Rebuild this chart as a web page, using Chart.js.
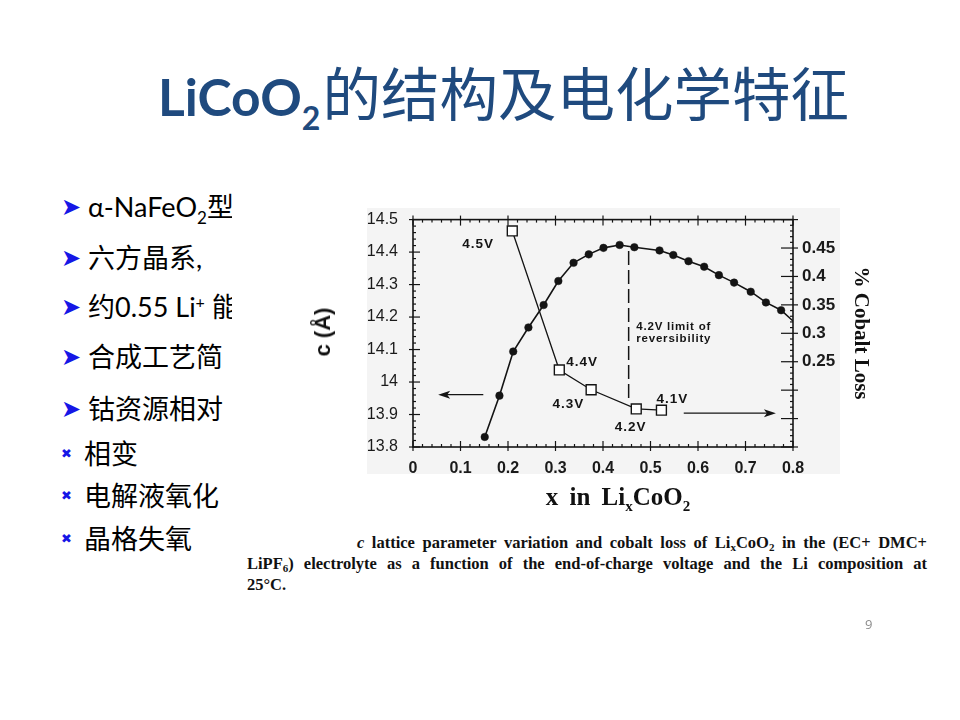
<!DOCTYPE html>
<html><head><meta charset="utf-8">
<script src="https://cdn.jsdelivr.net/npm/chart.js@4.4.1/dist/chart.umd.min.js"></script>
<style>
html,body{margin:0;padding:0;background:#fff;}
body{width:960px;height:720px;position:relative;overflow:hidden;font-family:"Noto Sans CJK SC",sans-serif;}
#title{position:absolute;left:158px;top:51px;height:80px;line-height:80px;color:#1f4a7e;white-space:nowrap;}
#title .lat{font-family:Lato,"Open Sans",sans-serif;font-weight:700;font-size:51.5px;}
#title .sub{font-family:Lato,"Open Sans",sans-serif;font-weight:700;font-size:32px;position:relative;top:14px;margin-right:2px;}
#title .cjk{font-family:"Noto Sans CJK SC";font-size:58.5px;font-weight:400;}
.row{position:absolute;left:61px;height:40px;line-height:40px;font-size:27px;color:#000;white-space:nowrap;font-family:Lato,"Noto Sans CJK SC",sans-serif;}
.row .b{display:inline-block;width:27px;height:40px;line-height:40px;color:#1616e6;font-family:"DejaVu Sans";font-size:24px;vertical-align:top;}
.row .x{display:inline-block;width:23px;color:#1616e6;font-family:"DejaVu Sans";font-size:13px;vertical-align:top;}
.row .s{font-size:17px;position:relative;top:7px;}
.row .p{font-size:16px;position:relative;top:-9px;}
#clip{position:absolute;left:232px;top:180px;width:140px;height:380px;background:#fff;}
#scan{position:absolute;left:367px;top:208px;width:473px;height:266px;background:#f4f4f4;}
#chart{position:absolute;left:300px;top:195px;}
.ytitle{position:absolute;white-space:nowrap;color:#111;}
#ctitle{left:323px;top:332px;transform:translate(-50%,-50%) rotate(-90deg);font-family:"Liberation Sans";font-weight:700;font-size:22px;}
#ltitle{left:861px;top:333px;transform:translate(-50%,-50%) rotate(90deg);font-family:"Liberation Serif";font-weight:700;font-size:21px;}
#xtitle{left:618px;top:497px;transform:translate(-50%,-50%);font-family:"Liberation Serif";font-weight:700;font-size:25px;word-spacing:5px;}
#xtitle sub{font-size:15px;vertical-align:-6px;line-height:0;}
#cap{position:absolute;left:247px;top:532px;width:680px;font-family:"Liberation Serif";font-weight:700;font-size:16.5px;line-height:21px;color:#111;}
#cap div{text-align:justify;text-align-last:justify;white-space:nowrap;}
#cap sub{font-size:11px;vertical-align:-3px;line-height:0;}
#pnum{position:absolute;left:865px;top:615px;font-family:"Open Sans";font-size:13px;color:#8c8c8c;}
</style>
</head><body>
<div id="title"><span class="lat">LiCoO</span><span class="sub">2</span><span class="cjk">的结构及电化学特征</span></div>

<div class="row" style="top:187px"><span class="b">➤</span>α-NaFeO<span class="s">2</span>型</div>
<div class="row" style="top:238px"><span class="b">➤</span>六方晶系,</div>
<div class="row" style="top:287px"><span class="b">➤</span>约0.55 Li<span class="p">+</span> 能</div>
<div class="row" style="top:337px"><span class="b">➤</span>合成工艺简</div>
<div class="row" style="top:389px"><span class="b">➤</span>钴资源相对</div>
<div class="row" style="top:434px"><span class="x">✖</span>相变</div>
<div class="row" style="top:476px"><span class="x">✖</span>电解液氧化</div>
<div class="row" style="top:519px"><span class="x">✖</span>晶格失氧</div>
<div id="clip"></div>
<div id="scan"></div>

<canvas id="chart" width="600" height="330"></canvas>
<div class="ytitle" id="ctitle">c (Å)</div>
<div class="ytitle" id="ltitle">% Cobalt Loss</div>
<div class="ytitle" id="xtitle">x in Li<sub>x</sub>CoO<sub>2</sub></div>

<div id="cap">
<div style="padding-left:110px"><i>c</i> lattice parameter variation and cobalt loss of Li<sub>x</sub>CoO<sub>2</sub> in the (EC+ DMC+</div>
<div>LiPF<sub>6</sub>) electrolyte as a function of the end-of-charge voltage and the Li composition at</div>
<div style="text-align-last:left">25°C.</div>
</div>
<div id="pnum">9</div>

<script>
// ---- data ----
const xLi = [0.151,0.182,0.211,0.243,0.275,0.306,0.338,0.370,0.401,0.435,0.466,0.519,0.548,0.580,0.613,0.644,0.676,0.711,0.743,0.775,0.800];
const cLattice = [13.831,13.958,14.094,14.168,14.237,14.311,14.367,14.393,14.413,14.422,14.415,14.405,14.391,14.372,14.355,14.329,14.306,14.278,14.245,14.221,14.188];
const cMarker = [1,1,1,1,1,1,1,1,1,1,1,1,1,1,1,1,1,1,1,1,0];
const xLoss = [0.209,0.308,0.375,0.470,0.523];
const cobaltLoss = [0.480,0.2355,0.2007,0.167,0.1648];
const voltLabels = ['4.5V','4.4V','4.3V','4.2V','4.1V'];
const voltLabelX = [0.137,0.356,0.327,0.458,0.546];
const voltLabelC = [14.425,14.060,13.930,13.861,13.946];
const limitX = [0.454,0.454];
const limitC = [14.403,13.943];
const limitText = ['4.2V limit of','reversibility'];
const limitTextX = [0.470,0.470];
const limitTextC = [14.170,14.132];
const arrowFromX = [0.148,0.570];
const arrowToX = [0.053,0.764];
const arrowC = [13.961,13.904];
const xTicks = [0,0.1,0.2,0.3,0.4,0.5,0.6,0.7,0.8];
const cTicks = [13.8,13.9,14.0,14.1,14.2,14.3,14.4,14.5];
const lossTickLabels = [0.25,0.30,0.35,0.40,0.45];

const ink = '#141414';

const boxPlugin = {
  id: 'box',
  afterDatasetsDraw(chart) {
    const {ctx, chartArea: a, scales: {x, y, y2}} = chart;
    const line = (x1, y1, x2, y2_) => { ctx.beginPath(); ctx.moveTo(x1, y1); ctx.lineTo(x2, y2_); ctx.stroke(); };
    ctx.save();
    ctx.strokeStyle = ink;
    ctx.lineWidth = 1.6;
    ctx.strokeRect(a.left, a.top, a.right - a.left, a.bottom - a.top);
    ctx.lineWidth = 1.2;
    for (let i = 0; i <= 40; i++) {
      const px = x.getPixelForValue(i * 0.02);
      const major = i % 5 === 0;
      const inw = major ? 6 : 3, out = major ? 4 : 0;
      line(px, a.bottom + out, px, a.bottom - inw);
      line(px, a.top - out, px, a.top + inw);
    }
    for (let i = 0; i <= 35; i++) {
      const py = y.getPixelForValue(13.8 + i * 0.02);
      const major = i % 5 === 0;
      line(a.left - (major ? 4 : 0), py, a.left + (major ? 7 : 3), py);
    }
    for (let i = 0; i <= 40; i++) {
      const py = y2.getPixelForValue(0.1 + i * 0.01);
      const major = i % 5 === 0;
      line(a.right + (major ? 5 : 0), py, a.right - (major ? 12 : 3), py);
    }
    ctx.lineWidth = 1.3;
    ctx.fillStyle = ink;
    for (let k = 0; k < arrowC.length; k++) {
      const x1 = x.getPixelForValue(arrowFromX[k]);
      const x2 = x.getPixelForValue(arrowToX[k]);
      const py = y.getPixelForValue(arrowC[k]);
      const dir = Math.sign(x2 - x1);
      line(x1, py, x2 - dir * 6, py);
      ctx.beginPath();
      ctx.moveTo(x2, py);
      ctx.lineTo(x2 - dir * 12, py - 4);
      ctx.lineTo(x2 - dir * 9, py);
      ctx.lineTo(x2 - dir * 12, py + 4);
      ctx.closePath();
      ctx.fill();
    }
    ctx.font = 'bold 13.5px "Liberation Sans"';
    ctx.letterSpacing = '1px';
    ctx.textAlign = 'center';
    ctx.textBaseline = 'middle';
    voltLabels.forEach((t, i) => {
      ctx.fillText(t, x.getPixelForValue(voltLabelX[i]), y.getPixelForValue(voltLabelC[i]));
    });
    ctx.font = 'bold 11.5px "Liberation Sans"';
    ctx.letterSpacing = '0.8px';
    ctx.textAlign = 'left';
    limitText.forEach((t, i) => {
      ctx.fillText(t, x.getPixelForValue(limitTextX[i]), y.getPixelForValue(limitTextC[i]));
    });
    ctx.restore();
  }
};

new Chart(document.getElementById('chart'), {
  type: 'line',
  data: {
    datasets: [
      {
        label: 'c lattice parameter',
        data: xLi.map((v, i) => ({x: v, y: cLattice[i]})),
        yAxisID: 'y',
        borderColor: ink, borderWidth: 1.6, tension: 0,
        pointRadius: cMarker.map(m => m ? 3.8 : 0),
        pointBackgroundColor: ink, pointBorderColor: ink, pointBorderWidth: 0.5
      },
      {
        label: '% Cobalt Loss',
        data: xLoss.map((v, i) => ({x: v, y: cobaltLoss[i]})),
        yAxisID: 'y2',
        borderColor: ink, borderWidth: 1.3, tension: 0,
        pointStyle: 'rect', pointRadius: 7,
        pointBackgroundColor: '#fff', pointBorderColor: ink, pointBorderWidth: 1.4
      },
      {
        label: '4.2V limit of reversibility',
        data: limitX.map((v, i) => ({x: v, y: limitC[i]})),
        yAxisID: 'y',
        borderColor: ink, borderWidth: 1.5, borderDash: [14, 5],
        pointRadius: 0
      }
    ]
  },
  options: {
    responsive: false, animation: false, events: [],
    layout: {padding: {top: 23, left: 0, right: 0, bottom: 0}},
    plugins: {legend: {display: false}, tooltip: {enabled: false}},
    scales: {
      x: {
        type: 'linear', position: 'bottom', min: 0, max: 0.8,
        grid: {display: false, drawTicks: false}, border: {display: false},
        afterBuildTicks: s => { s.ticks = xTicks.map(v => ({value: v})); },
        ticks: {padding: 12, color: '#1a1a1a', font: {family: 'Liberation Sans', size: 16, weight: 'bold'},
                callback: v => String(+Number(v).toFixed(1))},
        afterFit: s => { s.height = 78; }
      },
      y: {
        type: 'linear', position: 'left', min: 13.8, max: 14.5,
        grid: {display: false, drawTicks: false}, border: {display: false},
        afterBuildTicks: s => { s.ticks = cTicks.map(v => ({value: v})); },
        ticks: {padding: 15, color: '#1a1a1a', font: {family: 'Liberation Sans', size: 16},
                callback: v => String(+Number(v).toFixed(1))},
        afterFit: s => { s.width = 113; }
      },
      y2: {
        type: 'linear', position: 'right', min: 0.1, max: 0.5,
        grid: {display: false, drawTicks: false}, border: {display: false},
        afterBuildTicks: s => { s.ticks = lossTickLabels.map(v => ({value: v})); },
        ticks: {padding: 9, color: '#1a1a1a', font: {family: 'Liberation Sans', size: 17, weight: 'bold'},
                callback: v => String(+Number(v).toFixed(2))},
        afterFit: s => { s.width = 107; }
      }
    }
  },
  plugins: [boxPlugin]
});
</script>
</body></html>
